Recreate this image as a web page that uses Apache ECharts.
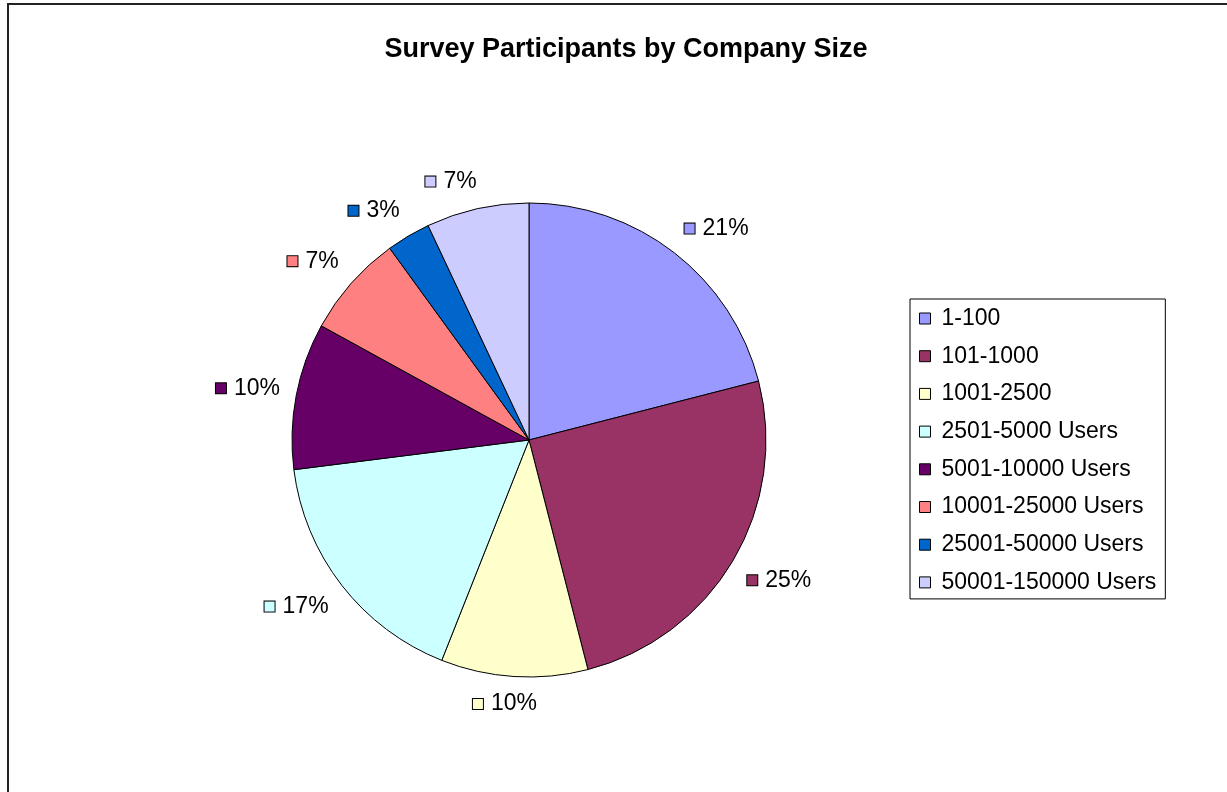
<!DOCTYPE html>
<html>
<head>
<meta charset="utf-8">
<title>Survey Participants by Company Size</title>
<script src="https://cdn.jsdelivr.net/npm/echarts@6/dist/echarts.min.js"></script>
<style>
  html, body { margin: 0; padding: 0; background: #fff; }
  #chart { width: 1227px; height: 792px; }
</style>
</head>
<body>
<div id="chart"></div>
<script>
// Company size buckets and share of survey participants (percent)
const categories = [
  '1-100',
  '101-1000',
  '1001-2500',
  '2501-5000 Users',
  '5001-10000 Users',
  '10001-25000 Users',
  '25001-50000 Users',
  '50001-150000 Users'
];
const shares = [21, 25, 10, 17, 10, 7, 3, 7];
const colors = ['#9999FF', '#993366', '#FFFFCC', '#CCFFFF', '#660066', '#FF8080', '#0066CC', '#CCCCFF'];

const CX = 529, CY = 440, RADIUS = 237;
const FONT = '"Liberation Sans", Arial, Helvetica, sans-serif';
const total = shares.reduce((a, b) => a + b, 0);

// one small colour key per slice, drawn inside the data label
const rich = { v: { fontSize: 23, fontFamily: FONT, color: '#000', padding: [0, 0, 0, 8], verticalAlign: 'middle' } };
colors.forEach((c, i) => {
  rich['k' + i] = { width: 10, height: 10, backgroundColor: c, borderColor: '#000', borderWidth: 1, verticalAlign: 'middle' };
});

const clamp = v => Math.max(-1, Math.min(1, v));

// place each label just outside the rim, pushed away from the pie along the slice's middle direction
function placeLabel(params) {
  const i = params.dataIndex;
  let before = 0;
  for (let k = 0; k < i; k++) before += shares[k];
  const mid = (before + shares[i] / 2) / total * Math.PI * 2;
  const dx = Math.sin(mid), dy = -Math.cos(mid);
  const r = RADIUS + 16;
  const w = params.labelRect.width, h = params.labelRect.height;
  return {
    x: CX + dx * r + clamp(dx / 0.25) * w / 2,
    y: CY + dy * r + clamp(dy / 0.5) * h / 2,
    align: 'center',
    verticalAlign: 'middle'
  };
}

const chart = echarts.init(document.getElementById('chart'), null, { renderer: 'canvas' });
chart.setOption({
  backgroundColor: '#fff',
  animation: false,
  color: colors,
  title: {
    text: 'Survey Participants by Company Size',
    left: 621,
    top: 31,
    textAlign: 'center',
    textStyle: { fontFamily: FONT, fontSize: 27, fontWeight: 'bold', color: '#000' }
  },
  graphic: [{
    type: 'rect',
    shape: { x: 8, y: 4, width: 1300, height: 900 },
    style: { fill: 'none', stroke: '#222', lineWidth: 2 },
    silent: true
  }],
  legend: {
    orient: 'vertical',
    left: 910,
    top: 299,
    padding: [8, 9, 5, 9],
    itemWidth: 11,
    itemHeight: 11,
    itemGap: 14.7,
    icon: 'rect',
    borderColor: '#000',
    borderWidth: 1,
    itemStyle: { borderColor: '#000', borderWidth: 1 },
    selectedMode: false,
    textStyle: { fontFamily: FONT, fontSize: 23, lineHeight: 23, color: '#000', padding: [0, 0, 0, 6] },
    data: categories
  },
  series: [{
    type: 'pie',
    center: [CX, CY],
    radius: RADIUS,
    startAngle: 90,
    clockwise: true,
    avoidLabelOverlap: false,
    itemStyle: { borderColor: '#000', borderWidth: 1 },
    emphasis: { disabled: true },
    label: {
      show: true,
      position: 'outside',
      formatter: p => '{k' + p.dataIndex + '|}{v|' + p.value + '%}',
      rich: rich
    },
    labelLine: { show: false, length: 16, length2: 0 },
    labelLayout: placeLabel,
    data: categories.map((name, i) => ({ name: name, value: shares[i] }))
  }]
});
</script>
</body>
</html>
